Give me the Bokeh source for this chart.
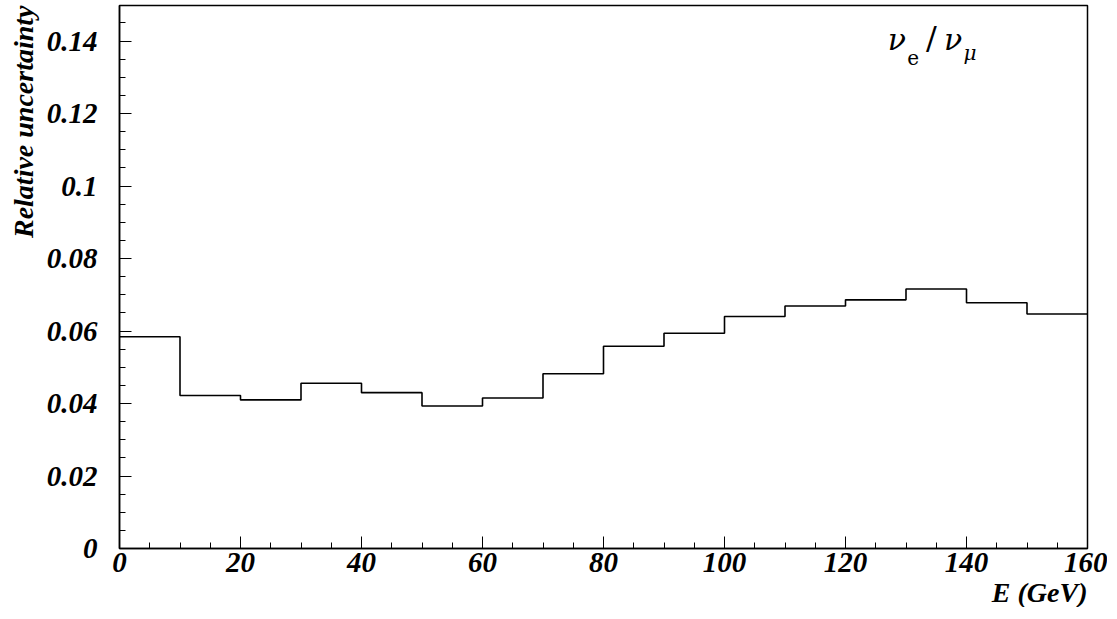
from bokeh.plotting import figure
from bokeh.models import Range1d, FixedTicker, Title, Label
from bokeh.embed import file_html
from bokeh.resources import INLINE

edges = [0, 10, 20, 30, 40, 50, 60, 70, 80, 90, 100, 110, 120, 130, 140, 150, 160]
values = [0.0584, 0.0422, 0.0410, 0.0456, 0.0430, 0.0393, 0.0415, 0.0482,
          0.0558, 0.0594, 0.0640, 0.0669, 0.0686, 0.0716, 0.0678, 0.0647]
x_ticks = [0, 20, 40, 60, 80, 100, 120, 140, 160]
y_ticks = [0, 0.02, 0.04, 0.06, 0.08, 0.1, 0.12, 0.14]
y_labels = ["0", "0.02", "0.04", "0.06", "0.08", "0.1", "0.12", "0.14"]

FONT = "Liberation Serif"
p = figure(frame_width=968, frame_height=543, output_backend="svg", toolbar_location=None,
           x_range=Range1d(0, 160), y_range=Range1d(0, 0.1498),
           min_border_left=10, min_border_top=5, min_border_right=20, min_border_bottom=5)
p.background_fill_color = "white"
p.border_fill_color = "white"
p.grid.visible = False
p.outline_line_color = "black"
p.outline_line_width = 1.5

p.step(x=edges, y=values + [values[-1]], mode="after", line_color="black", line_width=1.6)

for ax in (p.xaxis[0], p.yaxis[0]):
    ax.major_label_text_font = FONT
    ax.major_label_text_font_style = "bold italic"
    ax.major_label_text_font_size = "29px"
    ax.major_label_text_color = "black"
    ax.major_tick_in = 12
    ax.major_tick_out = 0
    ax.minor_tick_in = 6
    ax.minor_tick_out = 0
    ax.axis_line_color = "black"
    ax.axis_line_width = 1.5

p.xaxis.ticker = FixedTicker(ticks=x_ticks, minor_ticks=list(range(0, 161, 5)))
p.yaxis.ticker = FixedTicker(ticks=y_ticks, minor_ticks=[i * 0.005 for i in range(30)])
p.yaxis.major_label_overrides = {t: l for t, l in zip(y_ticks, y_labels)}
p.xaxis.major_label_standoff = 4
p.yaxis.major_label_standoff = 22

xt = Title(text="E (GeV)", align="right", text_font=FONT, text_font_style="bold italic",
           text_font_size="28px", text_color="black", offset=0, standoff=0)
p.add_layout(xt, "below")
yt = Title(text="Relative uncertainty", align="right", text_font=FONT, text_color="black",
           text_font_style="bold italic", text_font_size="28px")
p.add_layout(yt, "left")

common = dict(text_font="DejaVu Serif", text_color="black")
p.add_layout(Label(x=127, y=0.1355, text="ν", text_font_size="30px", text_font_style="italic", **common))
p.add_layout(Label(x=130.2, y=0.1335, text="e", text_font_size="20px", **common))
p.add_layout(Label(x=133.3, y=0.1355, text="/", text_font_size="32px", **common))
p.add_layout(Label(x=136.3, y=0.1355, text="ν", text_font_size="30px", text_font_style="italic", **common))
p.add_layout(Label(x=139.5, y=0.1335, text="μ", text_font_size="20px", text_font_style="italic", **common))

open("out.html", "w").write(file_html(p, INLINE))
